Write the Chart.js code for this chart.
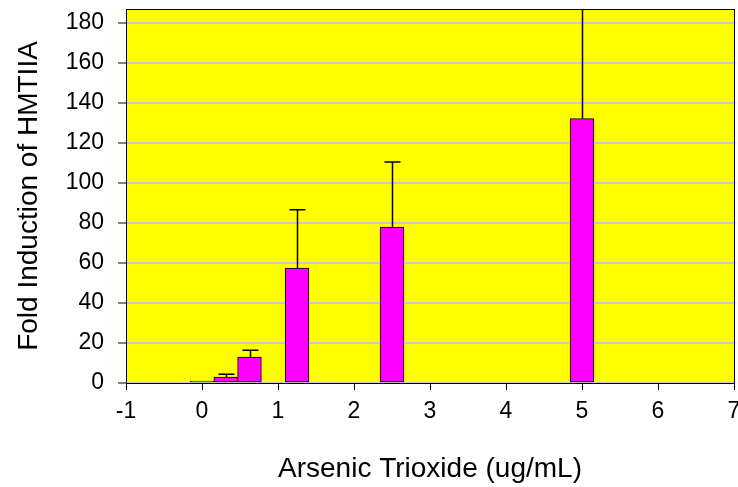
<!DOCTYPE html>
<html>
<head>
<meta charset="utf-8">
<script src="https://cdn.jsdelivr.net/npm/chart.js@4.4.1/dist/chart.umd.min.js"></script>
<style>
  html, body { margin: 0; padding: 0; background: #ffffff; }
  canvas { display: block; }
</style>
</head>
<body>
<canvas id="arsenicChart" width="738" height="487"></canvas>
<script>
// concentrations (ug/mL) and mean fold induction
const concentrations = [0, 0.3125, 0.625, 1.25, 2.5, 5];
const foldInduction = [1, 2.9, 12.9, 57.5, 78, 132.2];
// upper error bar length (the last one runs off the top of the plot)
const errorPlus = [0, 1.5, 3.5, 29.1, 32.5, 90];

const xTickMin = -1;
const xTickMax = 7;
const yTickMax = 187;

const tickFont = { family: "'Liberation Sans', Arial, sans-serif", size: 23 };
const titleFont = { family: "'Liberation Sans', Arial, sans-serif", size: 28 };

// yellow plot background + black frame
const plotFrame = {
	id: 'plotFrame',
	beforeDraw(chart) {
		const {ctx, chartArea: a} = chart;
		ctx.save();
		ctx.fillStyle = '#FFFF00';
		ctx.fillRect(a.left, a.top, a.right - a.left, a.bottom - a.top);
		ctx.restore();
	},
	afterDraw(chart) {
		const {ctx, chartArea: a} = chart;
		ctx.save();
		ctx.strokeStyle = '#000000';
		ctx.lineWidth = 1;
		ctx.strokeRect(Math.round(a.left) + 0.5, Math.round(a.top) + 0.5, Math.round(a.right - a.left), Math.round(a.bottom - a.top));
		ctx.restore();
	}
};

// error bars (upper only) from the data arrays
const errorBars = {
	id: 'errorBars',
	afterDatasetsDraw(chart) {
		const {ctx, chartArea: a, scales} = chart;
		ctx.save();
		ctx.beginPath();
		ctx.rect(a.left, a.top, a.right - a.left, a.bottom - a.top);
		ctx.clip();
		ctx.strokeStyle = '#000000';
		ctx.lineWidth = 1.5;
		for (let i = 0; i < concentrations.length; i++) {
			if (!errorPlus[i]) continue;
			const x = Math.round(scales.x.getPixelForValue(concentrations[i])) + 0.5;
			const y0 = scales.y.getPixelForValue(foldInduction[i]);
			const y1 = scales.y.getPixelForValue(foldInduction[i] + errorPlus[i]);
			ctx.beginPath();
			ctx.moveTo(x, y0);
			ctx.lineTo(x, y1);
			ctx.moveTo(x - 8, y1);
			ctx.lineTo(x + 8, y1);
			ctx.stroke();
		}
		ctx.restore();
	}
};

new Chart(document.getElementById('arsenicChart'), {
	type: 'bar',
	data: {
		datasets: [{
			data: concentrations.map((c, i) => ({x: c, y: foldInduction[i]})),
			backgroundColor: '#FF00FF',
			borderColor: '#000000',
			borderWidth: 1,
			borderSkipped: false,
			barPercentage: 1,
			categoryPercentage: 1
		}]
	},
	options: {
		responsive: false,
		animation: false,
		devicePixelRatio: 1,
		layout: { padding: { top: 9, right: 4, left: 0, bottom: 0 } },
		plugins: {
			legend: { display: false },
			tooltip: { enabled: false }
		},
		scales: {
			x: {
				type: 'linear',
				offset: false,
				min: xTickMin,
				max: xTickMax,
				ticks: { stepSize: 1, color: '#000000', font: tickFont, padding: 8, maxRotation: 0 },
				grid: { offset: false, drawOnChartArea: false, drawTicks: true, tickLength: 7, tickColor: '#000000' },
				border: { display: true, color: '#000000', width: 1 },
				title: { display: true, text: 'Arsenic Trioxide (ug/mL)', color: '#000000', font: titleFont, padding: { top: 0, bottom: 1 } },
				afterFit(scale) {
					scale.height = 104;
					scale.paddingRight = 0;
					scale.paddingLeft = 0;
				}
			},
			y: {
				min: 0,
				max: yTickMax,
				ticks: { stepSize: 20, includeBounds: false, color: '#000000', font: tickFont, padding: 14 },
				grid: { color: '#C8C8C8', lineWidth: 2, tickLength: 8, tickColor: '#000000', tickWidth: 1 },
				border: { display: true, color: '#000000', width: 1 },
				title: { display: true, text: 'Fold Induction of HMTIIA', color: '#000000', font: titleFont, padding: { top: 12, bottom: 0 } },
				afterFit(scale) {
					scale.width = 126;
					scale.paddingTop = 0;
					scale.paddingBottom = 0;
				}
			}
		}
	},
	plugins: [plotFrame, errorBars]
});
</script>
</body>
</html>
